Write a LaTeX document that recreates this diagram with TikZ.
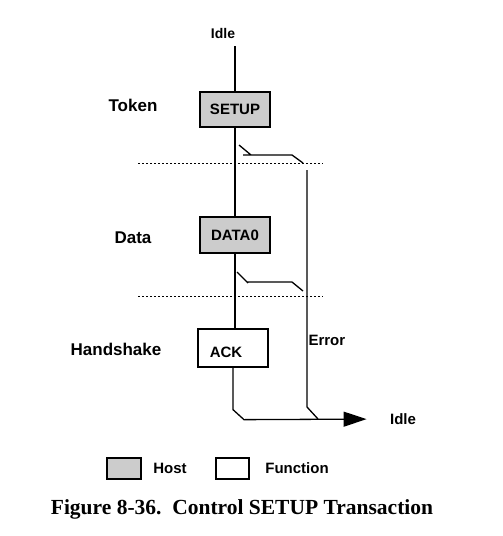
\documentclass[tikz,border=0pt]{standalone}
\usepackage{fontspec}
\setmainfont{Liberation Serif}
\setsansfont{Liberation Sans}
\usetikzlibrary{arrows.meta}
\definecolor{hostgray}{RGB}{204,204,204}
\tikzset{
  txt/.style={font=\sffamily\bfseries\fontsize{15}{18}\selectfont},
  rowlabel/.style={font=\sffamily\bfseries\fontsize{17}{20}\selectfont},
  hostbox/.style={draw, line width=1.3pt, fill=hostgray, minimum width=70pt, minimum height=35pt, inner sep=0pt, txt},
  funcbox/.style={hostbox, fill=white},
  wire/.style={line width=1.3pt},
  sepline/.style={line width=1pt, dash pattern=on 1.6pt off 2.4pt},
}

\begin{document}
\begin{tikzpicture}[x=1pt,y=-1pt]
    \useasboundingbox (0,0) rectangle (503,536);
    % stages
    \node[txt,font=\sffamily\bfseries\fontsize{14}{17}\selectfont] (idlein) at (223,33) {Idle};
    \coordinate (start) at (235,46);
    \node[hostbox] (setup) at (235,109.5) {SETUP};
    \node[hostbox, minimum height=36pt] (data0) at (235,235) {DATA0};
    \node[funcbox, minimum height=38pt, text height=18.7pt, text depth=0pt] (ack) at (233,348) {\hspace*{-14pt}ACK};
    \node[rowlabel] (token) at (133,105) {Token};
    \node[rowlabel] (data) at (133,238) {Data};
    \node[rowlabel] (handshake) at (116,349) {Handshake};
    \node[txt, anchor=west] (error) at (305,340) {Error};
    \node[txt] (idleout) at (403,419) {Idle};
    % main flow
    \draw[wire] (start) -- (setup);
    \draw[wire] (setup) -- (data0);
    \draw[wire] (data0.south) -- (data0.south |- ack.north);
    \draw[wire, -{Triangle[length=23pt,width=15pt]}] (ack.south) -- ++(0,42) -- ++(11,10) -- (idleout.west) [shorten >=20pt];
    % error branches
    \coordinate (sw1) at (239,145);
    \coordinate (sw2) at (237,272);
    \draw[wire] (sw1) -- ++(12,10) (sw1) ++(4,10) -- ++(49,0) -- ++(11,8);
    \draw[wire] (sw2) -- ++(11,11) (sw2) ++(10,10) -- ++(45,0) -- ++(11,9);
    \coordinate (errtop) at (307,170);
    \coordinate (errbot) at (307,407);
    \draw[wire] (errtop) -- (errbot) -- ++(11,12);
    % stage separators
    \draw[sepline] (138,163) -- (323,163);
    \draw[sepline] (138,296) -- (323,296);
    % legend
    \node[hostbox, minimum width=34pt, minimum height=21pt] (hostkey) at (124,468.5) {};
    \node[txt] (hosttext) at (170,468) {Host};
    \node[funcbox, minimum width=33pt, minimum height=21pt] (funckey) at (232.5,468.5) {};
    \node[txt] (functext) at (297,468) {Function};
    \node[font=\bfseries\fontsize{21.5}{24}\selectfont] (caption) at (242,509) {Figure 8-36.\ \ Control SETUP Transaction};
\end{tikzpicture}
\end{document}
